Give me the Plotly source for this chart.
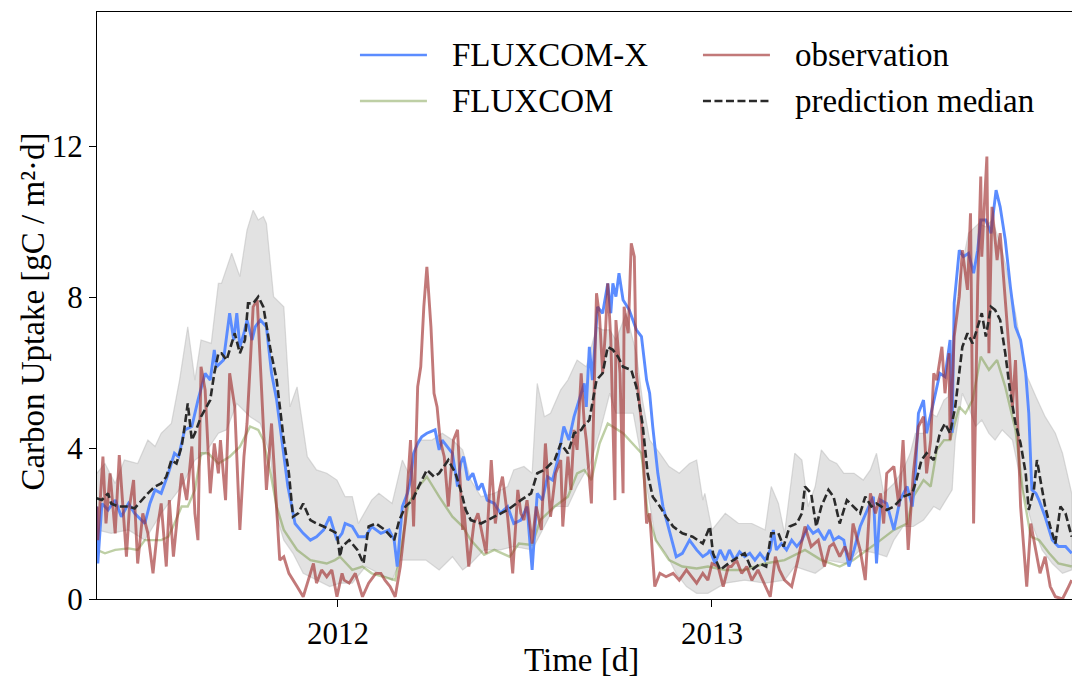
import pandas as pd
import plotly.graph_objects as go

# Daily carbon uptake [gC / m2 d]; each entry is (day since 2011-05-10, value)
START = pd.Timestamp("2011-05-10")

fluxcom_x = [
    (0, 2.45), (1, 0.94), (5, 2.53), (11, 2.36), (18, 2.62), (24, 2.18), (31, 2.53), (37, 2.27),
    (47, 2.00), (52, 2.53), (57, 2.89), (63, 2.80), (70, 3.33), (76, 3.86), (80, 3.77), (86, 4.48),
    (93, 4.57), (99, 5.27), (106, 5.98), (111, 5.80), (115, 6.60),
    (117, 6.15), (124, 6.33), (130, 7.57), (134, 6.86), (137, 7.57), (140, 6.68), (144, 7.04),
    (147, 7.39), (152, 6.86), (155, 7.21), (160, 7.39), (166, 7.21), (171, 5.98), (176, 5.27),
    (179, 4.65), (183, 3.77), (187, 2.98), (194, 2.00), (199, 1.83), (202, 1.74), (209, 1.56),
    (215, 1.65), (222, 1.83), (228, 2.18), (235, 1.56), (240, 1.74),
    (243, 2.00), (250, 1.92), (256, 1.65), (263, 1.65), (269, 1.92), (278, 1.74), (286, 1.83),
    (291, 1.56), (294, 0.86), (299, 2.45), (304, 2.80), (307, 3.15), (310, 3.86), (314, 4.12),
    (318, 4.30), (323, 4.39), (331, 4.48), (335, 3.95), (338, 4.21), (343, 4.03), (348, 3.86),
    (353, 2.98),
    (356, 3.59), (359, 3.77), (363, 3.15), (368, 3.33), (373, 2.89), (377, 3.06), (382, 2.62),
    (389, 2.53), (395, 2.27), (402, 2.45), (408, 2.00), (415, 2.09), (421, 2.45), (426, 0.77),
    (431, 2.80), (436, 2.62), (441, 3.24), (446, 3.15), (451, 3.68), (457, 4.57), (462, 4.21),
    (467, 4.83), (472, 5.27), (477, 5.71),
    (479, 5.09), (482, 6.68), (485, 5.80), (490, 7.74), (495, 7.57), (500, 8.36), (503, 7.57),
    (505, 8.36), (508, 8.01), (511, 8.63), (515, 7.92), (521, 7.66), (528, 7.13), (533, 6.95),
    (538, 5.80), (541, 5.45), (544, 4.57), (549, 3.33), (554, 2.45), (560, 1.83), (567, 1.12),
    (573, 1.21), (580, 1.56), (587, 1.30), (593, 1.12), (598, 1.21),
    (600, 1.30), (605, 0.94), (610, 1.30), (615, 1.03), (619, 1.30), (624, 1.03), (629, 1.25),
    (634, 1.12), (639, 1.21), (644, 1.03), (649, 1.21), (654, 1.03), (659, 1.30), (662, 1.83),
    (665, 1.30), (670, 1.47), (675, 1.30), (680, 1.56), (685, 1.39), (690, 1.56), (696, 1.92),
    (701, 1.74), (706, 1.83), (712, 1.56), (717, 1.83),
    (721, 1.56), (726, 1.65), (731, 1.56), (736, 0.86), (741, 1.30), (747, 1.92), (754, 2.36),
    (760, 2.71), (763, 0.94), (767, 2.62), (773, 2.53), (780, 1.83), (786, 2.62), (793, 2.98),
    (798, 2.45), (801, 3.33), (804, 4.92), (809, 5.27), (812, 4.39), (816, 4.92), (820, 5.36),
    (825, 5.98), (830, 5.89), (835, 6.86), (837, 4.40), (839, 7.84),
    (844, 9.24), (848, 9.07), (853, 9.16), (858, 8.63), (862, 9.24), (865, 10.04), (870, 10.04),
    (875, 9.69), (880, 10.83), (884, 10.39), (889, 9.51), (894, 8.27), (899, 7.21), (904, 6.86),
    (909, 5.98), (912, 4.92), (915, 2.89), (919, 2.80), (922, 2.62), (928, 2.18), (935, 1.56),
    (941, 1.39), (948, 1.39), (954, 1.21),
]

fluxcom = [
    (0, 1.30), (8, 1.21), (18, 1.30), (31, 1.34), (40, 1.30), (47, 1.56), (63, 1.56), (70, 1.65),
    (76, 2.00), (83, 2.45), (89, 2.45), (96, 2.89), (102, 3.86), (109, 3.86), (119, 3.59),
    (130, 3.77), (140, 4.03), (150, 4.57), (158, 4.48), (163, 4.21), (170, 3.33), (176, 2.45),
    (183, 1.83), (196, 1.30), (209, 1.03), (225, 0.94), (233, 1.03), (238, 1.12), (250, 0.77),
    (260, 0.86), (269, 0.68), (292, 0.50), (297, 1.21), (305, 2.53), (315, 2.98), (323, 3.24),
    (335, 2.71), (348, 2.18), (358, 1.92), (366, 1.56), (379, 1.17), (389, 1.30), (404, 1.12),
    (413, 1.47), (426, 1.43), (434, 2.09), (448, 2.45), (461, 2.71), (470, 3.33), (477, 3.42),
    (484, 3.15), (492, 4.12), (500, 4.65), (515, 4.39), (533, 3.86), (539, 2.27), (547, 1.56),
    (560, 1.03), (573, 0.86), (587, 0.81), (598, 0.86), (615, 0.77), (634, 0.77), (654, 0.94),
    (673, 1.03), (693, 1.30), (709, 1.03), (727, 0.86), (740, 1.03), (754, 1.30), (767, 1.56),
    (780, 1.83), (793, 2.00), (799, 2.71), (809, 3.15), (816, 2.98), (822, 3.95), (829, 4.21),
    (835, 4.21), (844, 5.09), (850, 4.92), (857, 5.27), (865, 6.42), (873, 6.07), (881, 6.33),
    (889, 5.62), (899, 4.48), (906, 2.89), (914, 1.65), (922, 1.56), (932, 1.21), (941, 0.94),
    (954, 0.86),
]

observation = [
    (0, 2.45), (1, 1.56), (6, 3.77), (9, 2.00), (13, 3.33), (18, 1.74), (22, 3.81), (26, 2.18),
    (29, 1.12), (32, 2.45), (36, 3.15), (40, 0.94), (45, 2.27), (50, 1.74), (55, 0.68), (60, 2.00),
    (63, 2.53), (68, 0.86), (71, 2.62), (75, 1.12), (80, 2.45), (83, 3.33), (88, 2.62), (93, 4.04),
    (96, 2.27), (99, 1.56), (102, 6.15), (106, 5.54), (111, 2.80), (115, 4.12), (119, 3.33),
    (121, 4.21), (126, 2.62), (130, 5.98), (135, 5.09), (140, 1.83), (144, 3.77), (147, 4.65),
    (150, 6.15), (153, 7.74), (157, 7.92), (161, 5.80), (166, 2.89), (171, 4.65), (174, 3.33),
    (179, 1.03), (183, 1.12), (188, 0.68), (196, 0.33), (202, 0.06), (209, 0.68), (212, 0.94),
    (215, 0.42), (220, 0.77), (225, 0.59), (230, 0.77), (235, 0.06), (240, 0.68),
    (242, 0.50), (247, 0.42), (253, 0.68), (256, 0.42), (260, 0.06), (266, 0.42), (273, 0.68),
    (278, 0.68), (282, 0.50), (287, 0.33), (292, 0.06), (297, 0.86), (302, 2.09), (307, 4.21),
    (310, 1.92), (314, 5.62), (317, 6.15), (320, 7.74), (323, 8.80), (327, 7.21), (330, 5.45),
    (333, 5.09), (336, 4.21), (340, 3.77), (344, 2.45), (349, 4.21), (353, 4.48), (358, 1.83),
    (359, 2.45), (364, 0.86), (369, 2.00), (373, 2.27), (377, 1.74), (381, 1.21), (386, 3.68),
    (390, 2.00), (394, 2.89), (397, 3.24), (402, 2.18), (407, 0.68), (412, 2.89), (415, 2.27),
    (418, 2.09), (421, 2.62), (426, 1.47), (430, 2.45), (435, 1.83), (439, 4.12), (444, 2.18),
    (449, 3.33), (454, 3.68), (456, 1.92), (461, 3.77), (464, 2.89), (467, 4.48), (470, 3.95),
    (474, 5.98), (477, 4.65),
    (479, 4.21), (484, 2.53), (489, 8.10), (492, 7.48), (495, 5.98), (498, 7.21), (500, 8.36),
    (503, 6.86), (507, 2.62), (508, 7.39), (512, 5.98), (515, 2.80), (516, 7.74), (520, 7.04),
    (523, 9.42), (526, 9.07), (528, 5.98), (533, 4.65), (538, 2.00), (541, 2.27), (546, 0.33),
    (551, 0.68), (557, 0.59), (564, 0.68), (570, 0.50), (577, 0.77), (587, 0.42), (593, 0.68),
    (598, 0.50),
    (602, 0.94), (608, 0.86), (613, 0.33), (618, 0.86), (621, 0.86), (626, 1.03), (631, 0.68),
    (636, 0.86), (641, 0.50), (647, 0.77), (654, 0.33), (659, 0.06), (664, 1.12), (668, 0.77),
    (673, 0.50), (680, 0.33), (686, 1.03), (693, 1.92), (699, 1.39), (706, 1.56), (712, 0.86),
    (717, 1.39),
    (721, 1.47), (727, 1.12), (732, 1.39), (737, 1.03), (740, 2.00), (747, 1.30), (752, 0.50),
    (757, 2.80), (762, 2.27), (767, 2.80), (770, 2.00), (773, 3.33), (780, 3.51), (785, 2.45),
    (789, 4.21), (794, 1.30), (799, 3.33), (804, 4.57), (809, 4.83), (812, 3.33), (816, 4.21),
    (819, 5.98), (822, 5.80), (827, 6.68), (830, 5.45), (834, 6.51),
    (835, 4.21), (839, 6.95), (844, 8.01), (847, 9.24), (852, 8.19), (855, 10.22), (858, 2.00),
    (862, 8.27), (865, 11.19), (866, 9.07), (871, 11.72), (873, 6.51), (876, 10.39), (881, 8.98),
    (884, 9.69), (888, 8.19), (893, 6.51), (896, 5.09), (899, 6.33), (904, 2.45), (907, 1.30),
    (910, 0.33), (914, 2.00), (919, 1.21), (923, 0.68), (928, 1.12), (933, 0.33), (938, 0.06),
    (945, 0.00), (951, 0.33), (954, 0.50),
]

prediction_median = [
    (0, 2.67), (5, 2.62), (11, 2.80), (14, 2.53), (21, 2.45), (31, 2.45), (37, 2.40), (44, 2.62),
    (50, 2.80), (57, 2.98), (63, 3.06), (68, 3.24), (73, 3.68), (78, 3.59), (83, 4.04), (86, 4.57),
    (89, 5.18), (93, 4.21), (96, 4.39), (102, 4.83), (111, 5.27), (115, 5.98), (119, 6.51),
    (122, 6.51), (127, 6.33), (135, 7.04), (140, 6.51), (145, 6.86), (148, 7.83), (153, 7.83),
    (158, 8.01), (163, 7.74), (170, 6.60), (176, 5.80), (183, 4.21), (188, 3.33), (192, 2.18),
    (197, 2.27), (202, 2.53), (209, 2.09), (215, 2.00), (222, 1.92), (228, 1.83), (235, 1.74),
    (238, 1.12),
    (240, 1.39), (247, 1.56), (255, 1.30), (261, 0.94), (266, 1.92), (273, 2.00), (282, 1.83),
    (291, 1.56), (296, 2.09), (302, 2.45), (309, 2.62), (315, 2.98), (323, 3.42), (330, 3.24),
    (335, 3.33), (344, 3.68), (351, 3.33), (357, 2.80),
    (361, 2.36), (366, 2.09), (376, 2.00), (389, 2.18), (402, 2.36), (415, 2.62), (425, 2.80),
    (431, 3.33), (438, 3.42), (448, 3.68), (454, 4.12), (461, 3.86), (467, 4.39), (474, 4.48),
    (476, 4.57), (482, 4.74), (489, 5.80), (495, 5.98), (500, 6.68), (505, 6.60), (510, 6.42),
    (515, 6.15), (523, 6.07), (528, 5.62), (534, 4.65), (539, 3.33), (544, 2.71), (551, 2.45),
    (557, 2.18), (564, 1.92), (573, 1.74), (583, 1.65), (593, 1.47),
    (600, 1.92), (603, 1.21), (610, 0.77), (618, 0.94), (628, 1.12), (634, 1.21), (641, 0.77),
    (649, 0.94), (655, 0.86), (660, 1.74), (667, 1.74), (672, 1.39), (678, 1.92), (685, 2.00),
    (690, 2.27), (693, 2.98), (699, 2.80), (704, 1.92), (709, 2.45), (716, 2.89),
    (721, 2.71), (727, 2.00), (734, 2.62), (740, 2.45), (747, 2.27), (752, 2.71), (758, 2.45),
    (763, 2.53), (773, 2.36), (780, 2.45), (789, 2.71), (798, 2.80), (802, 3.15), (807, 3.68),
    (812, 3.86), (819, 3.68), (825, 4.39), (830, 4.65), (835, 4.39),
    (840, 5.09), (847, 6.68), (852, 7.04), (857, 6.77), (863, 7.30), (866, 7.57), (870, 6.95),
    (875, 7.74), (879, 7.66), (884, 7.39), (889, 6.51), (894, 5.45), (899, 4.65), (904, 4.12),
    (909, 3.33), (912, 2.36), (917, 2.89), (920, 3.68), (924, 3.06), (928, 2.45), (933, 1.92),
    (938, 1.47), (943, 2.45), (948, 2.27), (954, 1.65),
]

# Spread of the prediction ensemble
prediction_upper = [
    (0, 3.33), (8, 3.59), (18, 3.06), (27, 3.68), (40, 3.59), (50, 4.21), (57, 4.04), (63, 4.39),
    (73, 4.65), (81, 5.80), (89, 7.21), (96, 5.80), (102, 6.86), (112, 6.77), (119, 8.36),
    (122, 8.36), (132, 9.16), (140, 8.54), (147, 9.77), (153, 10.30), (158, 10.04), (163, 10.13),
    (166, 9.95), (173, 8.01), (183, 7.74), (189, 5.09), (196, 5.62), (206, 3.77), (215, 3.42),
    (225, 3.33), (235, 3.15), (243, 2.71), (250, 2.71), (256, 2.00), (269, 2.62), (276, 2.80),
    (289, 2.53), (299, 3.68), (305, 3.33), (315, 4.21), (328, 4.21), (338, 4.39), (348, 4.21),
    (358, 3.95), (366, 3.15), (376, 2.71), (389, 2.80), (402, 2.98), (408, 3.42), (418, 3.51),
    (426, 3.33), (431, 5.71), (438, 4.83), (444, 4.92), (454, 5.54), (461, 5.80), (470, 6.33),
    (479, 6.15), (489, 7.21), (495, 7.13), (502, 7.13), (508, 6.86), (518, 7.57), (528, 6.51),
    (534, 5.27), (541, 4.21), (551, 3.86), (560, 3.51), (570, 3.33), (580, 3.59), (587, 3.68),
    (593, 2.62), (595, 2.80), (602, 1.83), (615, 2.27), (628, 2.00), (641, 2.00), (654, 1.83),
    (660, 2.98), (667, 2.53), (673, 1.74), (683, 3.86), (690, 3.68), (696, 2.45), (703, 2.98),
    (709, 3.95), (717, 3.68), (724, 3.59), (731, 3.33), (741, 3.33), (750, 3.15), (757, 3.42),
    (763, 3.86), (770, 2.80), (780, 3.06), (789, 3.42), (796, 3.86), (801, 4.39), (809, 4.39),
    (816, 4.92), (822, 4.83), (829, 5.27), (833, 5.36), (837, 6.51), (844, 8.45), (853, 9.69),
    (863, 9.95), (870, 9.86), (876, 10.04), (883, 9.51), (889, 8.89), (899, 7.57), (909, 5.98),
    (919, 5.36), (928, 4.83), (938, 4.39), (945, 3.86), (954, 2.80),
]

prediction_lower = [
    (0, 1.83), (14, 1.74), (31, 1.83), (47, 1.56), (63, 2.27), (83, 2.98), (96, 3.68), (106, 3.86),
    (119, 4.39), (127, 4.48), (137, 5.18), (150, 4.83), (160, 4.65), (170, 3.77), (176, 2.18),
    (183, 1.56), (192, 1.21), (202, 0.68), (215, 0.50), (228, 0.33), (238, 0.42), (250, 0.42),
    (263, 0.86), (276, 0.68), (289, 0.50), (297, 1.03), (302, 1.03), (322, 1.03), (335, 0.77),
    (348, 1.12), (358, 0.77), (366, 0.94), (379, 1.30), (395, 1.30), (408, 1.39), (426, 1.30),
    (438, 1.92), (448, 2.45), (461, 2.45), (470, 2.98), (479, 3.42), (482, 3.51), (492, 4.39),
    (502, 5.45), (508, 4.92), (518, 4.92), (525, 4.92), (533, 3.77), (541, 2.53), (547, 1.56),
    (557, 1.21), (567, 0.68), (577, 0.33), (587, 0.15), (598, 0.15), (615, 0.42), (634, 0.50),
    (654, 0.42), (673, 0.50), (683, 0.86), (693, 0.77), (703, 0.68), (712, 0.86), (714, 1.03),
    (734, 0.94), (747, 1.30), (763, 1.21), (773, 1.12), (780, 1.56), (789, 1.92), (799, 1.92),
    (809, 2.09), (819, 2.45), (825, 2.36), (837, 2.89), (840, 4.21), (847, 5.45), (853, 5.09),
    (860, 4.57), (866, 4.74), (873, 4.39), (879, 4.21), (886, 4.48), (896, 4.21), (906, 2.89),
    (915, 2.00), (925, 1.30), (935, 0.94), (945, 0.68), (954, 0.77),
]

year_ticks = ["2012-01-01", "2013-01-01"]
year_labels = ["2012", "2013"]
y_ticks = [0, 4, 8, 12]

FONT = "Liberation Serif"
TEXT_SIZE = 33
TICK_SIZE = 31
DASH = "8px,3.5px"


def split(series):
    dates = [START + pd.Timedelta(days=d) for d, _ in series]
    values = [v for _, v in series]
    return dates, values


fig = go.Figure()

up_x, up_y = split(prediction_upper)
lo_x, lo_y = split(prediction_lower)
fig.add_trace(go.Scatter(
    x=up_x + lo_x[::-1], y=up_y + lo_y[::-1], mode="lines", fill="toself",
    fillcolor="rgba(190,190,190,0.45)", line=dict(color="rgba(185,185,185,0.5)", width=1.2),
    hoverinfo="skip", showlegend=False,
))

colors = {
    "FLUXCOM": "rgba(100,140,40,0.42)",
    "FLUXCOM-X": "#5b8cff",
    "observation": "rgba(160,45,45,0.64)",
    "prediction median": "#2a2a2a",
}

for name, series, width, dash in [
    ("FLUXCOM", fluxcom, 2.4, "solid"),
    ("FLUXCOM-X", fluxcom_x, 2.9, "solid"),
    ("observation", observation, 2.9, "solid"),
    ("prediction median", prediction_median, 2.6, DASH),
]:
    xs, ys = split(series)
    fig.add_trace(go.Scatter(
        x=xs, y=ys, mode="lines", name=name,
        line=dict(color=colors[name], width=width, dash=dash),
        showlegend=False,
    ))

# Two-column legend drawn with line shapes and text
legend_rows = [
    ("FLUXCOM-X", 0.2697, 0.9267, "solid"),
    ("FLUXCOM", 0.2697, 0.8484, "solid"),
    ("observation", 0.6215, 0.9267, "solid"),
    ("prediction median", 0.6215, 0.8484, "dash"),
]
shapes = []
annotations = []
for name, x0, y0, dash in legend_rows:
    shapes.append(dict(
        type="line", xref="paper", yref="paper", x0=x0, x1=x0 + 0.0687, y0=y0, y1=y0,
        line=dict(color=colors[name], width=2.6, dash=DASH if dash == "dash" else "solid"),
    ))
    annotations.append(dict(
        text=name, xref="paper", yref="paper", x=x0 + 0.0924, y=y0,
        xanchor="left", yanchor="middle", showarrow=False,
        font=dict(family=FONT, size=TEXT_SIZE, color="black"),
    ))

annotations.append(dict(
    text="Time [d]", xref="paper", yref="paper", x=0.497, y=-0.104,
    xanchor="center", yanchor="middle", showarrow=False,
    font=dict(family=FONT, size=TEXT_SIZE, color="black"),
))
annotations.append(dict(
    text="Carbon Uptake [gC / m²·d]", xref="paper", yref="paper", x=-0.066, y=0.489,
    xanchor="center", yanchor="middle", textangle=-90, showarrow=False,
    font=dict(family=FONT, size=TEXT_SIZE, color="black"),
))

x_start = pd.Timestamp("2012-01-01") - pd.Timedelta(days=235.8)
x_end = x_start + pd.Timedelta(days=954.1)

fig.update_layout(
    width=1072, height=678,
    margin=dict(l=97, r=0, t=12, b=79),
    paper_bgcolor="white", plot_bgcolor="white",
    font=dict(family=FONT, size=TICK_SIZE, color="black"),
    shapes=shapes, annotations=annotations,
    xaxis=dict(
        range=[x_start, x_end], tickvals=year_ticks, ticktext=year_labels,
        showline=True, linecolor="black", linewidth=1.3, mirror=True,
        ticks="outside", ticklen=7, tickwidth=1.3, tickcolor="black",
        showgrid=False, zeroline=False, tickfont=dict(family=FONT, size=TICK_SIZE),
    ),
    yaxis=dict(
        range=[0, 15.55], tickvals=y_ticks,
        showline=True, linecolor="black", linewidth=1.3,
        ticks="outside", ticklen=7, tickwidth=1.3, tickcolor="black",
        showgrid=False, zeroline=False, tickfont=dict(family=FONT, size=TICK_SIZE),
    ),
)

fig.write_html("out.html", config={"displayModeBar": False})
